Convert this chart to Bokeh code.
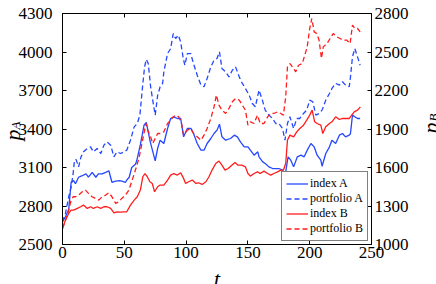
import math
from bokeh.plotting import figure
from bokeh.models import Range1d, LinearAxis, FixedTicker, Label
from bokeh.embed import file_html
from bokeh.resources import INLINE

# ---------------- data ----------------
t_index_A = [0, 2.4, 5, 7, 9, 10.5, 13, 16, 19, 21, 24, 27, 29, 32, 35, 37.5, 40, 43, 46, 48,
             51, 52, 54, 56, 59, 60, 63, 66, 67.8, 71, 75, 77, 79, 82, 85, 87.5, 90, 93, 95.6, 98,
             101, 104, 106, 109, 112, 114.5, 117, 120, 122.6, 125, 127, 129, 132, 136, 139, 141.5, 144, 147, 150, 152,
             155, 158, 159, 162, 164, 167, 170, 172.5, 175, 178, 179, 180.6, 182.5, 184.7, 187, 190, 193, 195.5, 198, 201,
             203.6, 206, 209, 210, 213, 216, 218, 221, 224, 226.5, 229, 232, 233, 234.6, 236.5, 238.7, 240.8]
index_A = [2677, 2716, 2770, 2985, 2998, 2973, 3024, 3036, 3050, 3025, 3062, 3024, 3050, 3050, 3062, 3075, 2985, 2993, 2998, 2993,
           2985, 3003, 3024, 3100, 3125, 3150, 3278, 3430, 3451, 3300, 3152, 3250, 3313, 3287, 3404, 3482, 3495, 3482, 3482, 3339,
           3404, 3404, 3365, 3287, 3235, 3235, 3287, 3326, 3365, 3391, 3438, 3339, 3313, 3326, 3352, 3339, 3300, 3261, 3261, 3235,
           3196, 3222, 3183, 3144, 3131, 3105, 3092, 3092, 3092, 3079, 3014, 3066, 3183, 3157, 3105, 3183, 3196, 3183, 3235, 3287,
           3261, 3196, 3157, 3110, 3209, 3261, 3313, 3287, 3352, 3365, 3339, 3352, 3365, 3508, 3495, 3482, 3482]

t_portfolio_A = [0, 2.4, 5, 7, 8.6, 9.7, 11, 13, 15, 17, 20, 22.7, 25, 28, 31, 33.5, 36, 39, 41.6, 44,
                 47, 49.7, 52, 55, 58, 60.5, 62.6, 64.5, 66.4, 67.8, 69.4, 71.3, 73, 75, 77, 79, 81, 82, 85, 87.5,
                 89.6, 91.5, 93.7, 95.6, 97.7, 99, 101, 103.7, 106, 109, 112, 114.5, 117, 120, 122.6, 125, 127, 129, 132, 134.7,
                 137.4, 140, 143, 145.5, 148, 151, 153.6, 156, 159, 161.7, 164, 167, 170, 172.5, 175, 178, 180, 182, 184, 187,
                 189.5, 192, 195, 197.6, 200, 202.5, 205, 207.6, 210, 213, 216, 218, 221, 224, 226.5, 229, 232, 233, 234.6, 236.5,
                 238.7, 240.8]
portfolio_A = [2677, 2742, 2870, 2950, 3053, 3157, 3162, 3105, 3183, 3222, 3248, 3261, 3222, 3248, 3209, 3274, 3300, 3274, 3183, 3222,
               3209, 3222, 3235, 3313, 3417, 3443, 3508, 3703, 3884, 3942, 3910, 3729, 3625, 3508, 3664, 3729, 3755, 3845, 3988, 4027,
               4144, 4105, 4131, 4079, 3949, 3897, 3988, 3988, 3910, 3819, 3742, 3729, 3794, 3884, 3936, 3949, 4001, 3871, 3845, 3806,
               3858, 3884, 3806, 3755, 3716, 3664, 3599, 3573, 3703, 3625, 3547, 3508, 3482, 3443, 3443, 3404, 3313, 3443, 3495, 3404,
               3482, 3482, 3521, 3547, 3625, 3612, 3508, 3521, 3547, 3625, 3677, 3716, 3755, 3742, 3768, 3742, 3729, 3806, 3962, 4027,
               3962, 3897]

t_index_B = [0, 2.4, 5, 7, 9, 12, 14.6, 17, 20, 22.7, 25, 28, 31, 33.5, 36, 39, 41.6, 44, 47, 49.7,
             52, 55, 58, 60.5, 63, 65, 66.7, 68.6, 70.7, 72.6, 74.5, 77, 79, 82, 85, 87.5, 90, 93, 95.6, 98,
             99.6, 102, 105, 108, 110, 113, 116, 118.5, 121, 124, 126.6, 129, 131.5, 134, 137, 139.6, 142, 145, 148, 150,
             152, 155, 157.7, 160, 163, 166, 168.5, 171, 174, 176.6, 178.7, 180.6, 182, 184, 187, 189.5, 192, 195, 197.6, 200,
             202, 204, 206, 209, 210.6, 213, 216, 218, 221, 224, 226.5, 229, 232, 234, 236, 238.7, 241]
index_B = [1125, 1190, 1242, 1268, 1268, 1281, 1294, 1307, 1281, 1294, 1281, 1294, 1281, 1294, 1294, 1281, 1247, 1255, 1252, 1255,
           1255, 1307, 1346, 1372, 1424, 1528, 1553, 1528, 1489, 1476, 1411, 1450, 1463, 1463, 1502, 1541, 1553, 1541, 1559, 1515,
           1476, 1489, 1502, 1476, 1481, 1468, 1489, 1528, 1580, 1631, 1650, 1618, 1580, 1592, 1618, 1639, 1618, 1618, 1605, 1553,
           1533, 1553, 1566, 1553, 1572, 1553, 1541, 1553, 1566, 1579, 1579, 1631, 1813, 1852, 1839, 1878, 1904, 1930, 1969, 2008,
           2047, 1956, 1943, 1930, 1865, 1917, 1943, 1956, 1995, 1974, 1982, 1982, 1982, 2008, 2034, 2047, 2073]

t_portfolio_B = [0, 2.4, 5, 7, 8.6, 10.5, 13, 16, 18.6, 21, 24, 26.7, 29.4, 32, 35, 37.5, 40, 43, 45.6, 48,
                 51, 53.7, 56.4, 59, 61.8, 63.7, 65.9, 67.5, 69, 71.3, 73, 75, 77, 79, 82, 85, 87.5, 89.6, 92, 94,
                 96, 98, 101, 103.7, 106, 109, 112, 114.5, 117, 120, 122.6, 124.5, 126.6, 129, 132, 134.7, 137.4, 140, 143, 145.5,
                 148, 150, 152, 155, 157.7, 160, 163, 166, 168.5, 171, 174, 176.6, 178.7, 180.6, 182, 184, 186, 188.7, 191, 194,
                 196, 198, 200, 201.7, 203.6, 205.7, 207.6, 209.5, 211, 214, 216.5, 219, 222, 224.6, 227, 230, 232.7, 234.6, 236.5, 238.7,
                 240.8]
portfolio_B = [1125, 1190, 1268, 1346, 1372, 1372, 1385, 1411, 1424, 1398, 1372, 1359, 1346, 1372, 1385, 1403, 1372, 1320, 1333, 1359,
               1385, 1424, 1502, 1580, 1670, 1761, 1865, 1943, 1891, 1839, 1787, 1826, 1865, 1865, 1878, 1943, 1969, 1995, 2008, 1995,
               1956, 1852, 1891, 1904, 1865, 1839, 1813, 1852, 1904, 1982, 2073, 2164, 2086, 2047, 2021, 2060, 2112, 2138, 2125, 2086,
               2047, 1930, 1956, 1943, 2008, 1943, 1943, 1995, 2021, 2021, 2034, 2021, 2008, 2151, 2384, 2410, 2384, 2346, 2397, 2410,
               2475, 2540, 2683, 2761, 2657, 2644, 2592, 2450, 2540, 2566, 2605, 2644, 2618, 2605, 2592, 2592, 2566, 2709, 2683, 2683,
               2657]

x_ticks = [0, 50, 100, 150, 200, 250]
yA_ticks = [2500, 2800, 3100, 3400, 3700, 4000, 4300]
yB_ticks = [1000, 1300, 1600, 1900, 2200, 2500, 2800]
series_labels = ["index A", "portfolio A", "index B", "portfolio B"]

# ---------------- figure ----------------
FONT = "'Liberation Serif'"
BLUE = "#2447ff"
RED = "#ff1c1c"
TICK_FONT = "17px"

p = figure(width=436, height=284, output_backend="svg", toolbar_location=None,
           x_range=Range1d(0, 250), y_range=Range1d(2500, 4300),
           min_border_left=62, min_border_right=65, min_border_top=13, min_border_bottom=40)
p.extra_y_ranges = {"B": Range1d(1000, 2800)}
p.xgrid.visible = False
p.ygrid.visible = False
p.outline_line_color = "black"
p.outline_line_width = 1
p.background_fill_color = "white"
p.border_fill_color = "white"


def style_axis(ax, ticks, standoff, show_labels=True):
    ax.ticker = FixedTicker(ticks=ticks)
    ax.major_tick_in = 4
    ax.major_tick_out = 0
    ax.minor_tick_line_color = None
    ax.axis_line_color = "black"
    ax.major_tick_line_color = "black"
    ax.major_label_text_font = FONT
    ax.major_label_standoff = standoff
    ax.axis_label_standoff = 0
    if show_labels:
        ax.major_label_text_font_size = TICK_FONT
        ax.major_label_text_color = "black"
    else:
        ax.major_label_text_font_size = "1px"
        ax.major_label_text_color = None


style_axis(p.xaxis[0], x_ticks, 2)
style_axis(p.yaxis[0], yA_ticks, 10)

right_axis = LinearAxis(y_range_name="B")
style_axis(right_axis, yB_ticks, 3)
p.add_layout(right_axis, "right")

top_axis = LinearAxis()
style_axis(top_axis, x_ticks, 0, show_labels=False)
p.add_layout(top_axis, "above")

# ---------------- lines ----------------
p.line(t_index_A, index_A, line_color=BLUE, line_width=1.3, legend_label=series_labels[0])
p.line(t_portfolio_A, portfolio_A, line_color=BLUE, line_width=1.3, line_dash="5 3", legend_label=series_labels[1])
p.line(t_index_B, index_B, line_color=RED, line_width=1.3, y_range_name="B", legend_label=series_labels[2])
p.line(t_portfolio_B, portfolio_B, line_color=RED, line_width=1.3, line_dash="5 3", y_range_name="B",
       legend_label=series_labels[3])

lg = p.legend[0]
lg.location = "bottom_right"
lg.margin = 3
lg.padding = 4
lg.spacing = 0
lg.glyph_width = 22
lg.glyph_height = 13
lg.label_height = 13
lg.label_standoff = 2
lg.label_text_font = FONT
lg.label_text_font_size = "12px"
lg.label_text_line_height = 1.0
lg.label_text_color = "black"
lg.border_line_color = "black"
lg.border_line_width = 1.2
lg.background_fill_color = "white"
lg.background_fill_alpha = 1.0

# ---------------- axis titles (canvas pixel positions; side panels only avoid frame clipping) ----------------
def add_label(text, x, y, size, side, angle=0.0, align="left"):
    p.add_layout(Label(x=x, y=y, x_units="canvas", y_units="canvas", text=text, angle=angle,
                       text_font=FONT, text_font_style="italic", text_font_size=size,
                       text_align=align, text_baseline="alphabetic", text_color="black"), side)

add_label("p", 12, 140, "22px", "below", angle=math.pi / 2)
add_label("A", 15, 129, "13px", "left", angle=math.pi / 2)
add_label("p", 430, 133, "22px", "above", angle=math.pi / 2)
add_label("B", 433, 121, "13px", "right", angle=math.pi / 2)
add_label("t", 216.5, 278, "22px", "right", align="center")

open("out.html", "w").write(file_html(p, INLINE))
